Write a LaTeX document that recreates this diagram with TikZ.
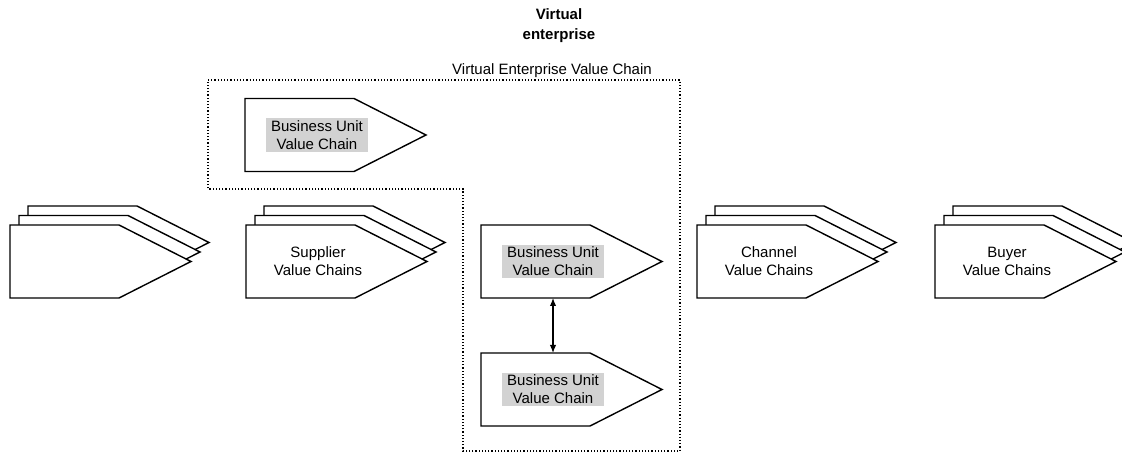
\documentclass[tikz,border=0pt]{standalone}
\usepackage{fontspec}
\setmainfont{Liberation Sans}
\usetikzlibrary{shapes.symbols,arrows.meta}

\begin{document}
\begin{tikzpicture}[
  x=0.5pt, y=-0.5pt,
  chain/.style={signal, signal to=east, signal pointer angle=53.8, draw, fill=white, line width=0.7pt, minimum width=90.5pt, minimum height=36.5pt, inner sep=0pt, outer sep=0pt},
  txt/.style={align=center, font=\fontsize{7.5}{9}\selectfont, inner sep=0pt},
  unit/.style={txt, fill=gray!35, inner xsep=2.5pt, inner ysep=1pt},
  frame/.style={densely dotted, line width=0.6pt},
  arrow/.style={{Latex[length=4pt,width=3.2pt]}-{Latex[length=4pt,width=3.2pt]}, line width=0.6pt}
]
\useasboundingbox (0,0) rectangle (1122,453);

% Virtual enterprise
\node[txt, font=\fontsize{7.5}{10}\selectfont\bfseries] (title) at (559,26) {Virtual\\enterprise};
\node[txt] (vetitle) at (552,71) {Virtual Enterprise Value Chain};
\draw[frame] (208,80) -- (680,80) -- (680,451) -- (463,451) -- (463,189) -- (208,189) -- cycle;

% Stacked value chains
\foreach \name/\x in {first/64.5, sup/300.5, chan/751.5, buy/989.5} {
  \foreach \k in {2,1,0}
    \node[chain] (\name\k) at (\x+\k*9, 261.5-\k*9.5) {};
}
\node[txt] (suptext) at (318,261.5) {Supplier\\Value Chains};
\node[txt] (chantext) at (769,261.5) {Channel\\Value Chains};
\node[txt] (buytext) at (1007,261.5) {Buyer\\Value Chains};

% Business units
\node[chain] (bu1) at (299.5,135) {};
\node[chain] (bu2) at (535.5,261.5) {};
\node[chain] (bu3) at (535.5,389.5) {};
\node[unit] (bu1text) at (317,135) {Business Unit\\Value Chain};
\node[unit] (bu2text) at (553,261.5) {Business Unit\\Value Chain};
\node[unit] (bu3text) at (553,389.5) {Business Unit\\Value Chain};

% Arrows
\draw[arrow] (bu2.south -| bu2text) -- (bu3.north -| bu3text);

\end{tikzpicture}
\end{document}
